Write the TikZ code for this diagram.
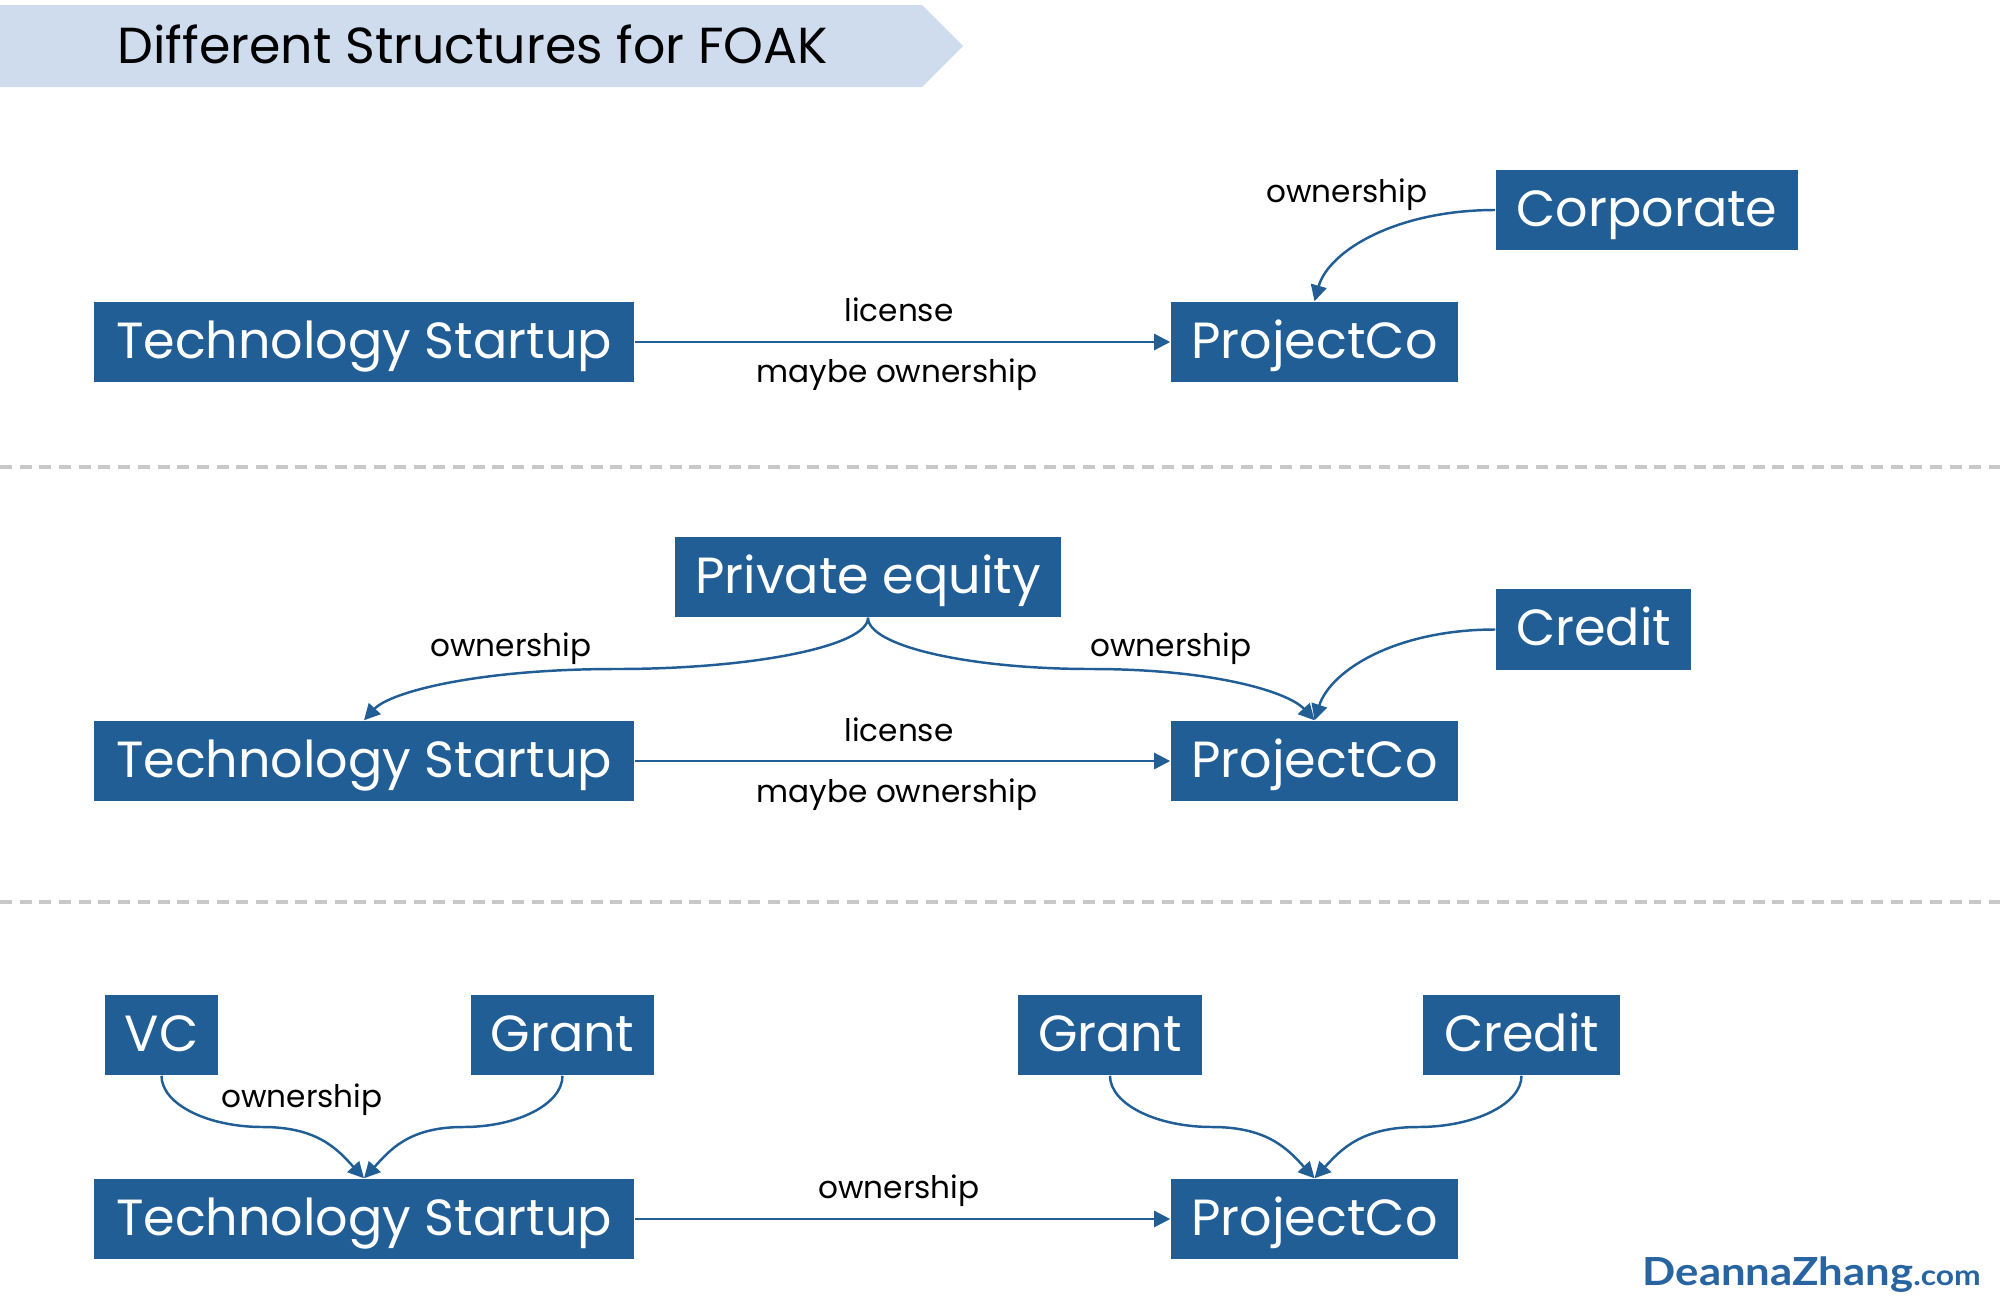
\documentclass[tikz,border=0pt]{standalone}
\usepackage{fontspec}
\setmainfont{Poppins}
\newfontfamily\brandfont{Lato}[FakeStretch=1.13]
\usetikzlibrary{arrows.meta,calc}
\definecolor{boxblue}{RGB}{33,94,150}
\definecolor{bannerblue}{RGB}{207,220,238}
\definecolor{sepgray}{RGB}{200,200,200}
\definecolor{brandblue}{RGB}{40,100,160}
\newcommand\sconn[3]{%
  \coordinate (m) at ($(#1)!0.5!(#2)$);
  \draw[conn] (#1) .. controls ($(#1)!0.55!(#1|-m)$) and ($(m)!0.55!(#1|-m)$) .. (m)
    .. controls ($(m)!0.55!(#2|-m)$) and ($(#2)!0.55!(#2|-m)+(#3,0)$) .. (#2);}
\newcommand\hconn[3]{%
  \draw[conn] (#1) .. controls ($(#1)!0.55!(#2|-#1)$) and ($(#2)!0.55!(#2|-#1)+(#3,0)$) .. (#2);}
\begin{document}
\begin{tikzpicture}[x=0.01cm,y=-0.01cm,
  box/.style={fill=boxblue, text=white, inner sep=0pt, minimum height=0.8cm,
    text height=0.42cm, text depth=0.10cm,
    font=\fontsize{14.45}{16}\selectfont},
  lbl/.style={font=\fontsize{8.85}{10}\selectfont, inner sep=0pt},
  conn/.style={draw=boxblue, line width=0.7pt, -{Triangle[length=0.16cm,width=0.16cm]}},
  sep/.style={draw=sepgray, line width=0.9pt, dash pattern=on 3.4pt off 2.2pt},
]
\useasboundingbox (0,0) rectangle (2000,1306);
% banner
\fill[bannerblue] (0,5) -- (922,5) -- (963,46) -- (922,87) -- (0,87) -- cycle;
\node[anchor=base west, inner sep=0pt, font=\fontsize{14.4}{16}\selectfont] (title) at (117,63) {Different Structures for FOAK};
% separators
\coordinate (s1a) at (0,467); \coordinate (s1b) at (2000,467);
\coordinate (s2a) at (0,902); \coordinate (s2b) at (2000,902);
\draw[sep] (s1a) -- (s1b);
\draw[sep] (s2a) -- (s2b);
% row 1
\node[box, minimum width=5.40cm] (ts1) at (364,342) {Technology Startup};
\node[box, minimum width=2.87cm] (pc1) at (1314.5,342) {ProjectCo};
\node[box, minimum width=3.02cm] (corp) at (1647,210) {Corporate};
\draw[conn] (ts1) -- (pc1);
\hconn{corp.west}{pc1.north}{14}
\node[lbl] (l1a) at (1347,195) {ownership};
\node[lbl] (l1b) at (899,310) {license};
\node[lbl] (l1c) at (897,375) {maybe ownership};
% row 2
\node[box, minimum width=3.86cm] (pe) at (868,577) {Private equity};
\node[box, minimum width=1.95cm] (cr2) at (1593.5,629.5) {Credit};
\node[box, minimum width=5.40cm] (ts2) at (364,761) {Technology Startup};
\node[box, minimum width=2.87cm] (pc2) at (1314.5,761) {ProjectCo};
\draw[conn] (ts2) -- (pc2);
\sconn{pe.south}{ts2.north}{26}
\sconn{pe.south}{pc2.north}{-26}
\hconn{cr2.west}{pc2.north}{16}
\node[lbl] (l2a) at (511,649) {ownership};
\node[lbl] (l2b) at (1171,649) {ownership};
\node[lbl] (l2c) at (899,730) {license};
\node[lbl] (l2d) at (897,795) {maybe ownership};
% row 3
\node[box, minimum width=1.13cm] (vc) at (161.5,1035) {VC};
\node[box, minimum width=1.83cm] (gr1) at (562.5,1035) {Grant};
\node[box, minimum width=1.84cm] (gr2) at (1110,1035) {Grant};
\node[box, minimum width=1.97cm] (cr3) at (1521.5,1035) {Credit};
\node[box, minimum width=5.40cm] (ts3) at (364,1219) {Technology Startup};
\node[box, minimum width=2.87cm] (pc3) at (1314.5,1219) {ProjectCo};
\draw[conn] (ts3) -- (pc3);
\sconn{vc.south}{ts3.north}{-26}
\sconn{gr1.south}{ts3.north}{26}
\sconn{gr2.south}{pc3.north}{-26}
\sconn{cr3.south}{pc3.north}{26}
\node[lbl] (l3a) at (302,1100) {ownership};
\node[lbl] (l3b) at (899,1191) {ownership};
% brand
\node[anchor=base west, inner sep=0pt, text=brandblue, font=\brandfont\fontsize{11}{12}\selectfont\bfseries] (brand) at (1642,1285) {DeannaZhang{\fontsize{8}{10}\selectfont.com}};
\end{tikzpicture}
\end{document}
